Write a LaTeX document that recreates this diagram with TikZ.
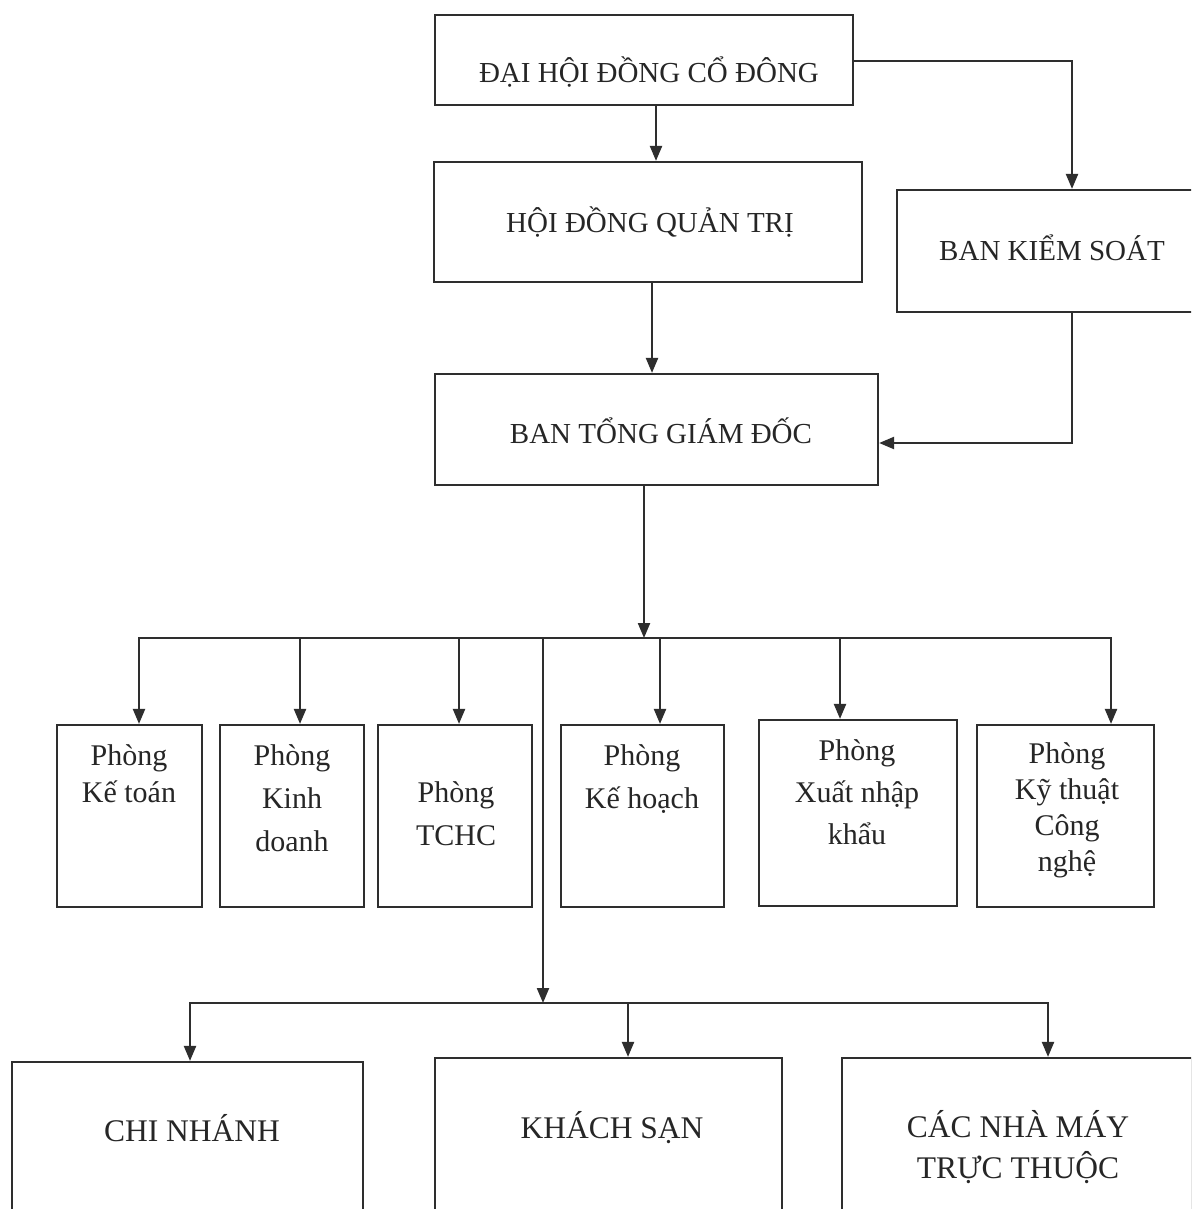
\documentclass[tikz,border=0pt]{standalone}
\usepackage{fontspec}
\setmainfont{Liberation Serif}
\usetikzlibrary{arrows.meta}
\definecolor{lc}{HTML}{2E2E2E}
\definecolor{tc}{HTML}{262626}
\begin{document}
\begin{tikzpicture}[x=1pt,y=-1pt,
  ln/.style={draw=lc, line width=2.2pt},
  box/.style={ln, inner sep=0pt, rectangle},
  txt/.style={text=tc, font=\fontsize{29}{41}\selectfont, align=center, inner sep=0pt},
  dep/.style={txt, anchor=north},
  big/.style={txt, font=\fontsize{31.5}{41}\selectfont},
  arr/.style={ln, -{Triangle[length=15pt,width=12pt]}}]
\useasboundingbox (0,0) rectangle (1191,1209);
\clip (0,0) rectangle (1191,1209);
\fill[white] (0,0) rectangle (1191,1209);

% boxes
\node[box, minimum width=418pt, minimum height=90pt]  (dh) at (644,60) {};
\node[box, minimum width=428pt, minimum height=120pt] (hd) at (648,222) {};
\node[box, minimum width=298pt, minimum height=122pt] (bk) at (1046,251) {};
\node[box, minimum width=443pt, minimum height=111pt] (bt) at (656.5,429.5) {};
\node[box, minimum width=145pt, minimum height=182pt] (p1) at (129.5,816) {};
\node[box, minimum width=144pt, minimum height=182pt] (p2) at (292,816) {};
\node[box, minimum width=154pt, minimum height=182pt] (p3) at (455,816) {};
\node[box, minimum width=163pt, minimum height=182pt] (p4) at (642.5,816) {};
\node[box, minimum width=198pt, minimum height=186pt] (p5) at (858,813) {};
\node[box, minimum width=177pt, minimum height=182pt] (p6) at (1065.5,816) {};
\node[box, minimum width=351pt, minimum height=198pt] (c1) at (187.5,1161) {};
\node[box, minimum width=347pt, minimum height=202pt] (c2) at (608.5,1159) {};
\node[box, minimum width=350pt, minimum height=202pt] (c3) at (1017,1159) {};

% texts
\node[txt, anchor=base] (tdh) at (649,83) {ĐẠI HỘI ĐỒNG CỔ ĐÔNG};
\node[txt, anchor=base] (thd) at (650,232) {HỘI ĐỒNG QUẢN TRỊ};
\node[txt, anchor=base] (tbk) at (1052,260) {BAN KIỂM SOÁT};
\node[txt, anchor=base] (tbt) at (661,443) {BAN TỔNG GIÁM ĐỐC};
\node[dep, font=\fontsize{30}{37}\selectfont] (tp1) at (129,744.5) {Phòng\\Kế toán};
\node[dep, font=\fontsize{30}{43}\selectfont] (tp2) at (292,744.5) {Phòng\\Kinh\\doanh};
\node[dep, font=\fontsize{30}{43}\selectfont] (tp3) at (456,781.5) {Phòng\\TCHC};
\node[dep, font=\fontsize{30}{43}\selectfont] (tp4) at (642,744.5) {Phòng\\Kế hoạch};
\node[dep, font=\fontsize{30}{42}\selectfont] (tp5) at (857,739.5) {Phòng\\Xuất nhập\\khẩu};
\node[dep, font=\fontsize{30}{36}\selectfont] (tp6) at (1067,742.5) {Phòng\\Kỹ thuật\\Công\\nghệ};
\node[big, anchor=base] (tc1) at (192,1141) {CHI NHÁNH};
\node[big, anchor=base] (tc2) at (612,1138) {KHÁCH SẠN};
\node[big, anchor=north] (tc3) at (1018,1110) {CÁC NHÀ MÁY\\TRỰC THUỘC};

% helper coordinates
\coordinate (xa) at (656,0);
\coordinate (xb) at (652,0);
\coordinate (xk) at (1072,0);
\coordinate (xt) at (644,0);
\coordinate (bus) at (644,638);
\coordinate (b1) at (139,638);
\coordinate (b2) at (300,638);
\coordinate (b3) at (459,638);
\coordinate (b4) at (660,638);
\coordinate (b5) at (840,638);
\coordinate (b6) at (1111,638);
\coordinate (b7) at (543,638);
\coordinate (bus2) at (543,1003);
\coordinate (d1) at (190,1003);
\coordinate (d2) at (628,1003);
\coordinate (d3) at (1048,1003);

% connectors
\draw[arr] (xa |- dh.south) -- (xa |- hd.north);
\draw[arr] (dh.east |- 0,61) -| (xk |- bk.north);
\draw[arr] (xb |- hd.south) -- (xb |- bt.north);
\draw[arr] (xk |- bk.south) |- (bt.east |- 0,443);
\draw[arr] (xt |- bt.south) -- (bus);
\draw[ln, line cap=rect] (b1) -- (b6);
\draw[arr] (b1) -- (b1 |- p1.north);
\draw[arr] (b2) -- (b2 |- p2.north);
\draw[arr] (b3) -- (b3 |- p3.north);
\draw[arr] (b4) -- (b4 |- p4.north);
\draw[arr] (b5) -- (b5 |- p5.north);
\draw[arr] (b6) -- (b6 |- p6.north);
\draw[arr] (b7) -- (bus2);
\draw[ln, line cap=rect] (d1) -- (d3);
\draw[arr] (d1) -- (d1 |- c1.north);
\draw[arr] (d2) -- (d2 |- c2.north);
\draw[arr] (d3) -- (d3 |- c3.north);
\end{tikzpicture}
\end{document}
